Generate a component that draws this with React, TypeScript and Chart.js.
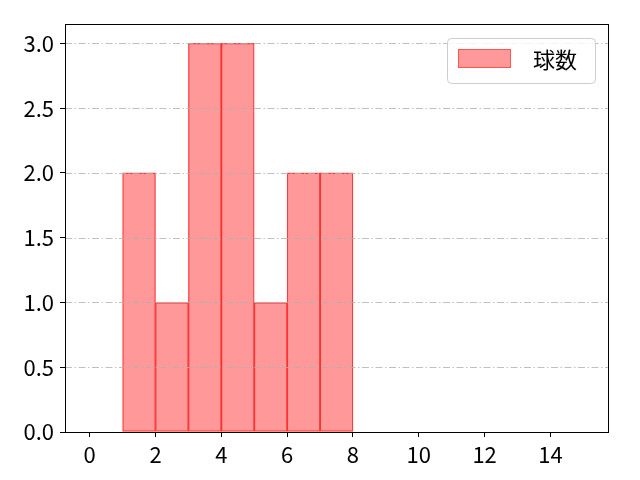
import React, { useEffect, useRef } from 'react';
import { Chart, registerables } from 'chart.js';

Chart.register(...registerables);

// histogram bins (left edge) and counts
const binStarts = [1, 2, 3, 4, 5, 6, 7];
const counts = [2, 1, 3, 3, 1, 2, 2];
const seriesLabel = '球数';

const xTicks = [0, 2, 4, 6, 8, 10, 12, 14];
const yTicks = [0, 0.5, 1.0, 1.5, 2.0, 2.5, 3.0];

const FONT = "'Noto Sans CJK JP', 'Noto Sans', sans-serif";
const FONT_SIZE = 22;

const fillColor = 'rgba(255, 0, 0, 0.4)';
const edgeColor = 'rgba(255, 0, 0, 0.7)';

// dash-dot grid drawn above the bars, plus the full box frame
const overlayPlugin = {
  id: 'overlay',
  afterDatasetsDraw(chart: any) {
    const { ctx, chartArea, scales } = chart;
    const { left, right, top, bottom } = chartArea;
    ctx.save();
    ctx.strokeStyle = '#b0b0b0';
    ctx.lineWidth = 0.8;
    ctx.setLineDash([7, 2.5, 1.5, 2.5]);
    yTicks.forEach((v) => {
      const y = Math.round(scales.y.getPixelForValue(v)) + 0.5;
      ctx.beginPath();
      ctx.moveTo(left, y);
      ctx.lineTo(right, y);
      ctx.stroke();
    });
    ctx.setLineDash([]);
    ctx.strokeStyle = '#000';
    ctx.lineWidth = 1;
    ctx.strokeRect(Math.round(left) + 0.5, Math.round(top) + 0.5, Math.round(right - left), Math.round(bottom - top));
    ctx.restore();
  },
  afterDraw(chart: any) {
    // legend box, upper right inside the axes
    const { ctx, chartArea } = chart;
    const w = 148;
    const h = 45;
    const x = chartArea.right - 13 - w;
    const y = chartArea.top + 14;
    ctx.save();
    ctx.beginPath();
    ctx.roundRect(x + 0.5, y + 0.5, w, h, 4);
    ctx.fillStyle = 'rgba(255,255,255,0.8)';
    ctx.fill();
    ctx.strokeStyle = '#cccccc';
    ctx.lineWidth = 1;
    ctx.stroke();
    ctx.fillStyle = fillColor;
    ctx.fillRect(x + 11, y + 11, 53, 19);
    ctx.strokeStyle = 'rgba(255, 0, 0, 0.45)';
    ctx.strokeRect(x + 11.5, y + 11.5, 52, 18);
    ctx.fillStyle = '#000';
    ctx.font = `${FONT_SIZE}px ${FONT}`;
    ctx.textBaseline = 'middle';
    ctx.textAlign = 'left';
    ctx.fillText(seriesLabel, x + 86, y + 22);
    ctx.restore();
  },
};

const App = (): JSX.Element => {
  const canvasRef = useRef<HTMLCanvasElement>(null);
  const chartRef = useRef<Chart | null>(null);

  useEffect(() => {
    if (!canvasRef.current) return;
    if (chartRef.current) {
      chartRef.current.destroy();
      chartRef.current = null;
    }

    const tickFont = { family: FONT, size: FONT_SIZE };

    chartRef.current = new Chart(canvasRef.current, {
      type: 'bar',
      data: {
        datasets: [
          {
            label: seriesLabel,
            data: binStarts.map((s, i) => ({ x: s + 0.5, y: counts[i] })),
            backgroundColor: fillColor,
            borderColor: edgeColor,
            borderWidth: 0.6,
            borderSkipped: false,
            barPercentage: 1,
            categoryPercentage: 1,
          },
        ],
      },
      options: {
        animation: false,
        responsive: true,
        maintainAspectRatio: false,
        layout: { padding: { left: 0, right: 32, top: 24, bottom: 0 } },
        plugins: {
          legend: { display: false },
          tooltip: { enabled: false },
        },
        scales: {
          x: {
            type: 'linear',
            min: -0.75,
            max: 15.75,
            offset: false,
            border: { display: false },
            grid: { offset: false, drawOnChartArea: false, color: '#000', tickLength: 5, lineWidth: 1 },
            ticks: { color: '#000', font: tickFont, padding: 4, maxRotation: 0 },
            afterBuildTicks: (scale: any) => {
              scale.ticks = xTicks.map((v) => ({ value: v }));
            },
            afterFit: (scale: any) => {
              scale.height = 48;
            },
          },
          y: {
            min: 0,
            max: 3.15,
            border: { display: false },
            grid: { drawOnChartArea: false, color: '#000', tickLength: 5, lineWidth: 1 },
            ticks: {
              color: '#000',
              font: tickFont,
              padding: 6,
              callback: (v: any) => Number(v).toFixed(1),
            },
            afterBuildTicks: (scale: any) => {
              scale.ticks = yTicks.map((v) => ({ value: v }));
            },
            afterFit: (scale: any) => {
              scale.width = 65;
            },
          },
        },
      },
      plugins: [overlayPlugin],
    });

    return () => {
      if (chartRef.current) {
        chartRef.current.destroy();
        chartRef.current = null;
      }
    };
  }, []);

  return (
    <div style={{ position: 'absolute', left: 0, top: 0, width: '640px', height: '480px', background: '#fff' }}>
      <canvas ref={canvasRef} role="img" aria-label="球数 histogram"></canvas>
    </div>
  );
};

export default App;
